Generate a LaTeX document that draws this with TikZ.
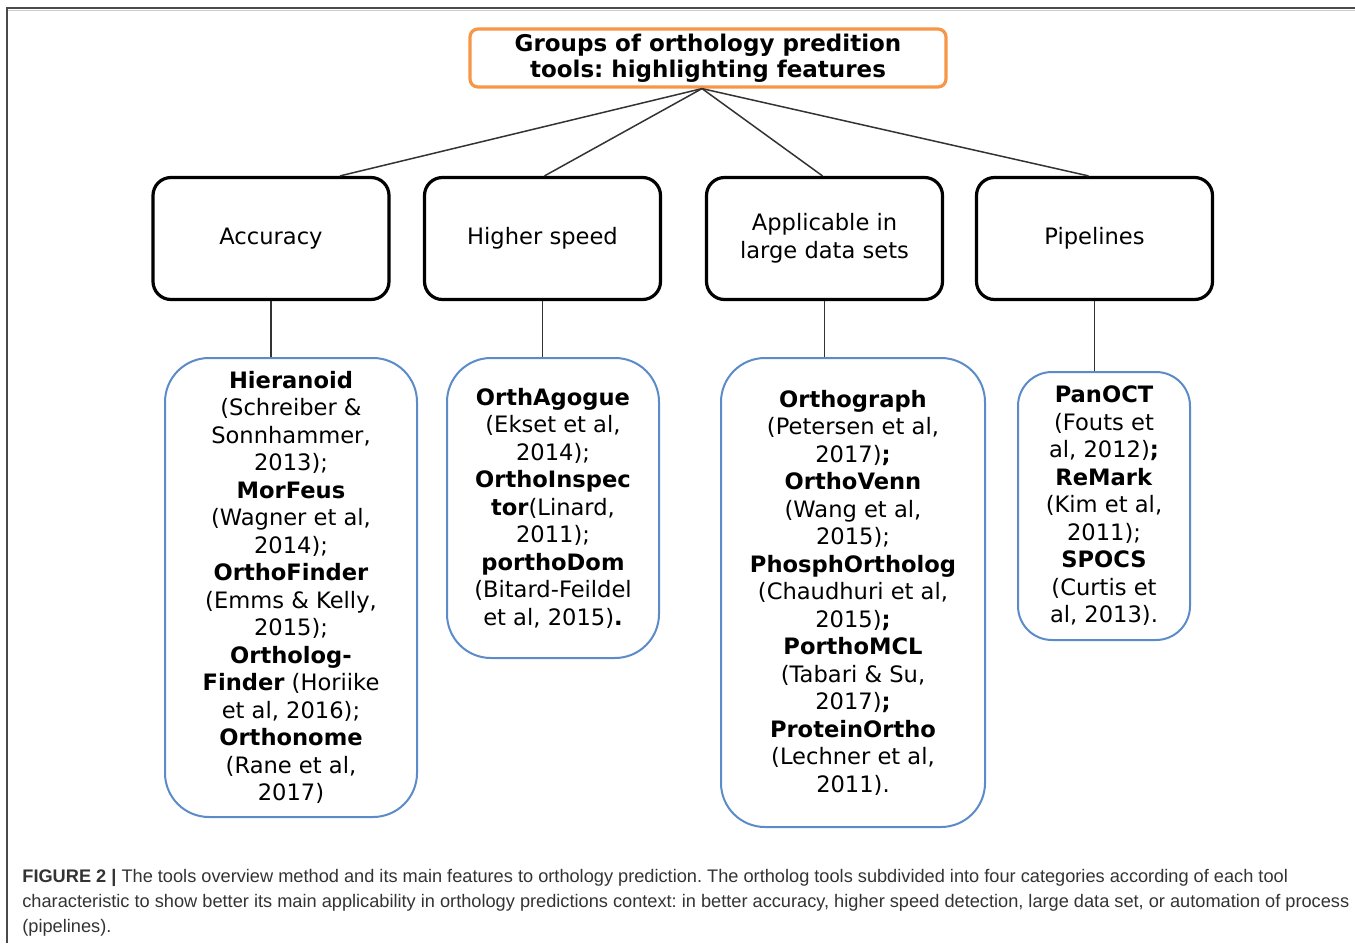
\documentclass[tikz,border=0pt]{standalone}
\usepackage{fontspec}
\setmainfont{DejaVu Sans}
\newfontfamily\capfont{Liberation Sans}
\definecolor{orng}{HTML}{F79646}
\definecolor{blu}{HTML}{5B8BC9}
\definecolor{capgray}{HTML}{333333}
\definecolor{framegray}{HTML}{4A4A4A}
\frenchspacing
\begin{document}
\begin{tikzpicture}[x=0.5pt,y=-0.5pt,
  every node/.style={inner sep=0pt,align=center},
  txt/.style={font=\fontsize{11.3}{13.75}\selectfont},
  titlebox/.style={draw=orng,line width=1.6pt,rounded corners=4pt,fill=white,minimum width=238pt,minimum height=29pt,font=\bfseries\fontsize{11.5}{13}\selectfont},
  catbox/.style={draw=black,line width=1.6pt,rounded corners=9pt,minimum width=118pt,minimum height=61pt,txt},
  listbox/.style={draw=blu,line width=1pt,rounded corners=22pt,txt},
  conn/.style={draw=black!80,line width=0.75pt},
  captxt/.style={anchor=base west,font=\capfont\frenchspacing\fontsize{9.1}{12.5}\selectfont,text=capgray}]
\useasboundingbox (0,0) rectangle (1355,943);
% frame
\draw[framegray,line width=1pt] (7,943) -- (7,8) -- (1355,8);
\draw[black!20,line width=0.5pt] (8,10.5) -- (1355,10.5);
% title
\node[titlebox] (title) at (708,58) {Groups of orthology predition\\tools: highlighting features};
% categories
\node[catbox] (acc) at (271,238.5) {Accuracy};
\node[catbox] (hs) at (542.5,238.5) {Higher speed};
\node[catbox] (app) at (824.5,238.5) {Applicable in\\large data sets};
\node[catbox] (pip) at (1094.5,238.5) {Pipelines};
% lists
\node[listbox,minimum width=126pt,minimum height=229.5pt] (accl) at (291,587.5)
 {\textbf{Hieranoid}\\(Schreiber \&\\Sonnhammer,\\2013);\\\textbf{MorFeus}\\(Wagner et al,\\2014);\\\textbf{OrthoFinder}\\(Emms \& Kelly,\\2015);\\\textbf{Ortholog-}\\\textbf{Finder} (Horiike\\et al, 2016);\\\textbf{Orthonome}\\(Rane et al,\\2017)};
\node[listbox,minimum width=106pt,minimum height=150pt] (hsl) at (553,508)
 {\textbf{OrthAgogue}\\(Ekset et al,\\2014);\\\textbf{OrthoInspec}\\\textbf{tor}(Linard,\\2011);\\\textbf{porthoDom}\\(Bitard-Feildel\\et al, 2015)\textbf{.}};
\node[listbox,minimum width=132pt,minimum height=234.5pt] (appl) at (853,592.5)
 {\textbf{Orthograph}\\(Petersen et al,\\2017)\textbf{;}\\\textbf{OrthoVenn}\\(Wang et al,\\2015);\\\textbf{PhosphOrtholog}\\(Chaudhuri et al,\\2015)\textbf{;}\\\textbf{PorthoMCL}\\(Tabari \& Su,\\2017)\textbf{;}\\\textbf{ProteinOrtho}\\(Lechner et al,\\2011).};
\node[listbox,rounded corners=17pt,minimum width=86pt,minimum height=134pt] (pipl) at (1104,506)
 {\textbf{PanOCT}\\(Fouts et\\al, 2012)\textbf{;}\\\textbf{ReMark}\\(Kim et al,\\2011);\\\textbf{SPOCS}\\(Curtis et\\al, 2013).};
% connectors
\draw[conn] ([xshift=-3pt]title.south) -- ([xshift=34.5pt]acc.north);
\draw[conn] ([xshift=-3pt]title.south) -- ([xshift=1pt]hs.north);
\draw[conn] ([xshift=-3pt]title.south) -- ([xshift=-1pt]app.north);
\draw[conn] ([xshift=-3pt]title.south) -- ([xshift=-3pt]pip.north);
\draw[conn] (acc.south) -- (acc.south |- accl.north);
\draw[conn] (hs.south) -- (hs.south |- hsl.north);
\draw[conn] (app.south) -- (app.south |- appl.north);
\draw[conn] (pip.south) -- (pip.south |- pipl.north);
% caption
\node[captxt] (cap1) at (22,882) {\textbf{FIGURE 2 |} The tools overview method and its main features to orthology prediction. The ortholog tools subdivided into four categories according of each tool};
\node[captxt] (cap2) at (22,907) {characteristic to show better its main applicability in orthology predictions context: in better accuracy, higher speed detection, large data set, or automation of process};
\node[captxt] (cap3) at (22,932) {(pipelines).};
\end{tikzpicture}
\end{document}
